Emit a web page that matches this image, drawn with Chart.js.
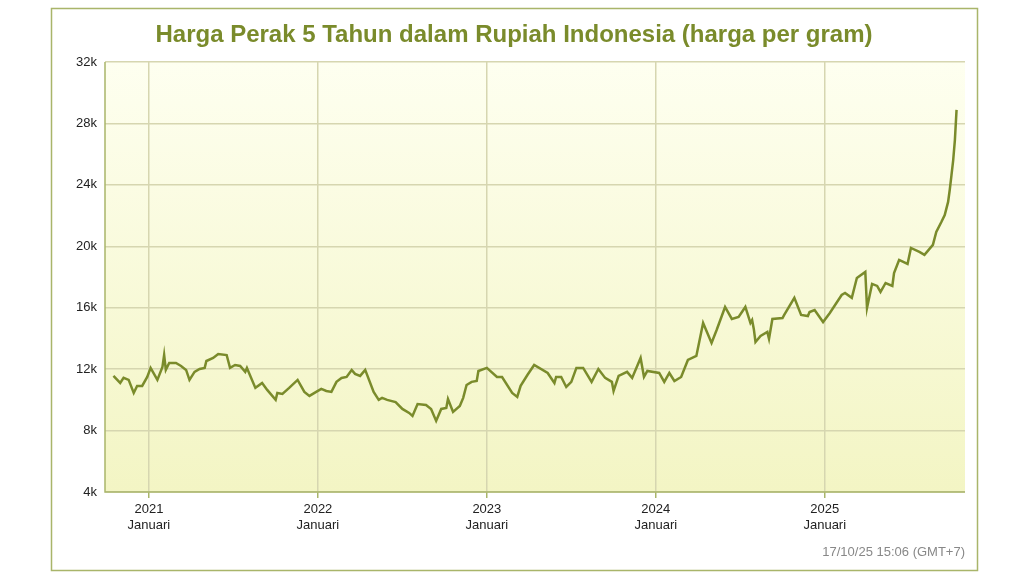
<!DOCTYPE html>
<html><head><meta charset="utf-8">
<script src="https://cdn.jsdelivr.net/npm/chart.js@4"></script>
<style>html,body{margin:0;padding:0;background:#fff}#w{width:1024px;height:576px;position:relative}</style>
</head><body><div id="w"><canvas id="c" width="1024" height="576"></canvas></div>
<script>
const years=[2020.79,2020.83,2020.85,2020.88,2020.91,2020.93,2020.96,2020.99,2021.01,2021.05,2021.08,2021.09,2021.10,2021.12,2021.16,2021.19,2021.22,2021.24,2021.27,2021.30,2021.33,2021.34,2021.38,2021.41,2021.46,2021.48,2021.51,2021.54,2021.57,2021.58,2021.63,2021.67,2021.70,2021.75,2021.76,2021.79,2021.83,2021.88,2021.92,2021.95,2021.99,2022.02,2022.05,2022.08,2022.11,2022.14,2022.17,2022.20,2022.22,2022.25,2022.28,2022.33,2022.36,2022.38,2022.41,2022.46,2022.50,2022.54,2022.56,2022.59,2022.64,2022.67,2022.70,2022.73,2022.76,2022.77,2022.80,2022.84,2022.86,2022.88,2022.91,2022.94,2022.95,2023.00,2023.06,2023.09,2023.15,2023.18,2023.20,2023.24,2023.28,2023.36,2023.40,2023.41,2023.44,2023.47,2023.50,2023.53,2023.57,2023.62,2023.66,2023.70,2023.74,2023.75,2023.78,2023.83,2023.86,2023.91,2023.93,2023.95,2024.02,2024.05,2024.08,2024.11,2024.15,2024.19,2024.24,2024.28,2024.33,2024.36,2024.41,2024.45,2024.49,2024.53,2024.56,2024.57,2024.58,2024.59,2024.62,2024.66,2024.67,2024.69,2024.75,2024.76,2024.82,2024.86,2024.90,2024.91,2024.94,2024.99,2025.03,2025.10,2025.12,2025.16,2025.19,2025.24,2025.25,2025.28,2025.31,2025.33,2025.36,2025.40,2025.41,2025.44,2025.49,2025.51,2025.56,2025.59,2025.64,2025.66,2025.69,2025.71,2025.73,2025.74,2025.75,2025.76,2025.77,2025.78];
const prices=[11.56,11.10,11.43,11.30,10.45,10.91,10.91,11.49,12.08,11.30,12.14,12.92,11.95,12.40,12.40,12.21,11.95,11.30,11.82,12.01,12.08,12.53,12.73,12.99,12.92,12.08,12.27,12.21,11.82,12.08,10.78,11.10,10.65,10.00,10.45,10.39,10.78,11.30,10.52,10.26,10.52,10.71,10.58,10.52,11.17,11.43,11.49,11.95,11.69,11.56,11.95,10.52,10.00,10.13,10.00,9.86,9.41,9.15,8.95,9.73,9.67,9.41,8.63,9.41,9.47,10.06,9.21,9.60,10.13,10.97,11.17,11.23,11.88,12.08,11.49,11.49,10.45,10.19,10.91,11.62,12.27,11.75,11.10,11.49,11.49,10.84,11.17,12.08,12.08,11.17,12.01,11.43,11.17,10.58,11.56,11.82,11.43,12.73,11.49,11.88,11.75,11.17,11.75,11.23,11.49,12.60,12.86,15.01,13.71,14.55,16.05,15.27,15.40,16.05,15.01,15.20,14.62,13.77,14.16,14.42,13.97,15.27,15.33,15.53,16.64,15.53,15.46,15.72,15.85,15.07,15.66,16.83,16.96,16.64,17.94,18.33,15.98,17.55,17.42,17.03,17.61,17.42,18.26,19.11,18.85,19.89,19.63,19.44,20.09,20.93,21.58,22.04,22.89,23.70,24.64,25.60,26.90,28.88];
const yTicks=[4,8,12,16,20,24,28,32];
const xTicks=[2021,2022,2023,2024,2025];
const title='Harga Perak 5 Tahun dalam Rupiah Indonesia (harga per gram)';
const stamp='17/10/25 15:06 (GMT+7)';
const olive='#7a8b2b';
const deco={id:'deco',
 beforeDraw(ch){const c=ch.ctx,a=ch.chartArea;c.save();
  c.fillStyle='#fff';c.fillRect(0,0,1024,576);
  const g=c.createLinearGradient(0,a.top,0,a.bottom);g.addColorStop(0,'#fefff0');g.addColorStop(1,'#f3f5c4');
  c.fillStyle=g;c.fillRect(a.left,a.top,a.right-a.left,a.bottom-a.top);
  c.strokeStyle='#a9b56a';c.lineWidth=1.5;c.strokeRect(51.5,8.5,926,562);
  c.fillStyle=olive;c.font='bold 24px Arial, "Liberation Sans", sans-serif';c.textAlign='center';c.textBaseline='middle';
  c.fillText(title,514,35);
  c.fillStyle='#888';c.font='13px Arial, "Liberation Sans", sans-serif';c.textAlign='right';c.fillText(stamp,965,552);
  c.restore();},
 afterDraw(ch){const c=ch.ctx,a=ch.chartArea;c.save();c.strokeStyle='#a9b56a';c.lineWidth=1.5;
  c.beginPath();c.moveTo(a.left,a.top);c.lineTo(a.left,a.bottom);c.lineTo(a.right,a.bottom);c.stroke();c.restore();}
};
new Chart(document.getElementById('c'),{type:'line',
 data:{datasets:[{data:years.map((x,i)=>({x,y:prices[i]})),borderColor:olive,borderWidth:2.5,pointRadius:0,tension:0,fill:false}]},
 options:{responsive:false,animation:false,layout:{padding:{left:55,right:59,top:62,bottom:0}},
  plugins:{legend:{display:false},tooltip:{enabled:false}},
  scales:{
   x:{type:'linear',min:2020.74,max:2025.83,afterBuildTicks:s=>{s.ticks=xTicks.map(v=>({value:v}))},
    afterFit:s=>{s.height=84},border:{display:false},
    grid:{color:'#d6d6b0',lineWidth:1.5,drawTicks:true,tickLength:6,tickColor:'#a9b56a'},
    ticks:{color:'#222',font:{size:13,family:'Arial, "Liberation Sans", sans-serif'},padding:4,maxRotation:0,callback:v=>[String(v),'Januari']}},
   y:{min:4,max:32,afterBuildTicks:s=>{s.ticks=yTicks.map(v=>({value:v}))},afterFit:s=>{s.width=50},border:{display:false},
    grid:{color:'#d6d6b0',lineWidth:1.5,drawTicks:false},
    ticks:{color:'#222',font:{size:13,family:'Arial, "Liberation Sans", sans-serif'},padding:8,callback:v=>v+'k'}}
  }},plugins:[deco]});
</script></body></html>
